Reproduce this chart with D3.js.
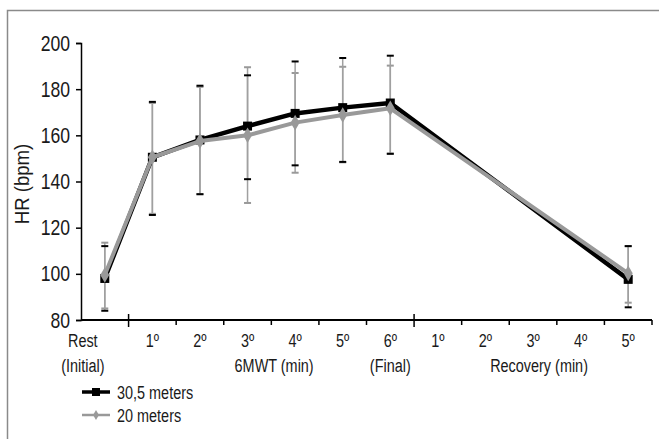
<!DOCTYPE html>
<html>
<head>
<meta charset="utf-8">
<script src="https://cdn.jsdelivr.net/npm/d3@7"></script>
<style>
  body { margin: 0; background: #fff; }
  svg { display: block; font-family: "Liberation Sans", Arial, sans-serif; }
</style>
</head>
<body>
<div id="chart"></div>
<script>
// tick labels along the x axis (12 slots)
var xLabels = ["Rest", "1º", "2º", "3º", "4º", "5º", "6º", "1º", "2º", "3º", "4º", "5º"];
var groupLabels = [
  {text: "(Initial)", at: 0, shift: -22},
  {text: "6MWT (min)", at: 4, shift: -21},
  {text: "(Final)", at: 6, shift: 0},
  {text: "Recovery (min)", at: 9, shift: 6}
];
var yTicks = [80, 100, 120, 140, 160, 180, 200];

// 30,5 meters
var mean30 = [98, 150.5, 158, 164, 169.5, 172, 174, null, null, null, null, 97.6];
var hi30   = [112, 174.5, 181.5, 186, 192, 193.5, 194.5, null, null, null, null, 112];
var lo30   = [84, 125.5, 134.5, 141, 147, 148.5, 152, null, null, null, null, 85.5];
// 20 meters
var mean20 = [99.5, 150.5, 157.5, 160, 165.5, 168.8, 171.7, null, null, null, null, 100.2];
var hi20   = [113.5, 174, 181, 189.5, 187, 189.7, 190.2, null, null, null, null, 112];
var lo20   = [85, 126, 134.5, 130.7, 143.8, 148.3, 152.1, null, null, null, null, 87.5];

var w = 659, h = 439;
var margin = {left: 81, right: 7, top: 43, bottom: 119};

var svg = d3.select("#chart").append("svg")
    .attr("width", w)
    .attr("height", h);

// outer frame (only top/left visible)
svg.append("rect")
    .attr("x", 7.5).attr("y", 10.5)
    .attr("width", 700).attr("height", 500)
    .attr("fill", "none")
    .attr("stroke", "#8a8a8a")
    .attr("stroke-width", 1.5);

var x = d3.scaleBand()
    .domain(d3.range(xLabels.length))
    .range([margin.left, w - margin.right])
    .paddingInner(0).paddingOuter(0);

var y = d3.scaleLinear()
    .domain([80, 200])
    .range([h - margin.bottom, margin.top]);

var cx = function(i) { return x(i) + x.bandwidth() / 2; };

// narrow type: squeeze text horizontally
function label(tx, ty, str, size, squeeze, anchor) {
  return svg.append("text")
      .attr("transform", "translate(" + tx + "," + ty + ") scale(" + squeeze + ",1)")
      .attr("text-anchor", anchor || "middle")
      .attr("font-size", size)
      .attr("fill", "#1a1a1a")
      .text(str);
}

// y axis
var yAxis = svg.append("g")
    .attr("transform", "translate(" + margin.left + ",0)")
    .call(d3.axisLeft(y).tickValues(yTicks).tickSize(5).tickPadding(6));
yAxis.select(".domain").attr("stroke", "#000").attr("stroke-width", 1.5);
yAxis.selectAll(".tick line").attr("stroke", "#000").attr("stroke-width", 1.5);
yAxis.selectAll(".tick text").remove();
yTicks.forEach(function(v) {
  label(margin.left - 11, y(v) + 7.5, v, 22, 0.8, "end");
});

svg.append("text")
    .attr("transform", "translate(29,184) rotate(-90) scale(0.93,1)")
    .attr("text-anchor", "middle")
    .attr("font-size", 20)
    .attr("fill", "#1a1a1a")
    .text("HR (bpm)");

// x axis
var baseY = y(80);
svg.append("line")
    .attr("x1", margin.left).attr("x2", w - margin.right)
    .attr("y1", baseY).attr("y2", baseY)
    .attr("stroke", "#000").attr("stroke-width", 2);

var bounds = d3.range(1, xLabels.length + 1);
svg.selectAll(".xtick")
    .data(bounds)
    .enter().append("line")
    .attr("class", "xtick")
    .attr("x1", function(d) { return margin.left + d * x.bandwidth(); })
    .attr("x2", function(d) { return margin.left + d * x.bandwidth(); })
    .attr("y1", function(d) { return (d == 1 || d == 7) ? baseY - 6 : baseY; })
    .attr("y2", function(d) { return (d == 1 || d == 7) ? baseY + 7 : baseY + 5; })
    .attr("stroke", "#000")
    .attr("stroke-width", 1.5);

xLabels.forEach(function(d, i) {
  label(i == 0 ? cx(i) - 22 : cx(i), baseY + 27, d, 19, 0.76);
});
groupLabels.forEach(function(d) {
  label(cx(d.at) + d.shift, baseY + 52, d.text, 19, 0.76);
});

// error bars
function errorBars(hi, lo, capColor, cls) {
  var idx = d3.range(hi.length).filter(function(i) { return hi[i] != null; });
  svg.selectAll(".stem" + cls).data(idx).enter().append("line")
      .attr("x1", cx).attr("x2", cx)
      .attr("y1", function(i) { return y(hi[i]); })
      .attr("y2", function(i) { return y(lo[i]); })
      .attr("stroke", "#a0a0a0").attr("stroke-width", 1.5);
  [hi, lo].forEach(function(arr, k) {
    svg.selectAll(".cap" + cls + k).data(idx).enter().append("line")
        .attr("x1", function(i) { return cx(i) - 3.5; })
        .attr("x2", function(i) { return cx(i) + 3.5; })
        .attr("y1", function(i) { return y(arr[i]); })
        .attr("y2", function(i) { return y(arr[i]); })
        .attr("stroke", capColor).attr("stroke-width", 2);
  });
}
errorBars(hi20, lo20, "#999", "g");
errorBars(hi30, lo30, "#000", "b");

var line = d3.line()
    .x(function(d) { return cx(d.i); })
    .y(function(d) { return y(d.v); });

function pts(arr) {
  return arr.map(function(v, i) { return {i: i, v: v}; }).filter(function(d) { return d.v != null; });
}

// 30,5 meters line + squares
svg.append("path")
    .attr("d", line(pts(mean30)))
    .attr("fill", "none").attr("stroke", "#000").attr("stroke-width", 4.5)
    .attr("stroke-linejoin", "round");
svg.selectAll(".sq").data(pts(mean30)).enter().append("rect")
    .attr("x", function(d) { return cx(d.i) - 4.5; })
    .attr("y", function(d) { return y(d.v) - 4.5; })
    .attr("width", 9).attr("height", 9)
    .attr("fill", "#000");

// 20 meters line + diamonds
svg.append("path")
    .attr("d", line(pts(mean20)))
    .attr("fill", "none").attr("stroke", "#999").attr("stroke-width", 4)
    .attr("stroke-linejoin", "round");
svg.selectAll(".dm").data(pts(mean20)).enter().append("path")
    .attr("d", d3.symbol().type(d3.symbolDiamond).size(70))
    .attr("transform", function(d) { return "translate(" + cx(d.i) + "," + y(d.v) + ")"; })
    .attr("fill", "#999");

// legend
var legend = [
  {name: "30,5 meters", color: "#000", shape: "square"},
  {name: "20 meters", color: "#999", shape: "diamond"}
];
var lg = svg.selectAll(".lg").data(legend).enter().append("g")
    .attr("transform", function(d, i) { return "translate(82," + (392 + i * 23) + ")"; });
lg.append("line")
    .attr("x1", 0).attr("x2", 28)
    .attr("stroke", function(d) { return d.color; })
    .attr("stroke-width", function(d, i) { return i == 0 ? 3.5 : 2.5; });
lg.append("path")
    .attr("d", function(d) {
      return d.shape == "square"
        ? d3.symbol().type(d3.symbolSquare).size(64)()
        : d3.symbol().type(d3.symbolDiamond).size(30)();
    })
    .attr("transform", "translate(14,0)")
    .attr("fill", function(d) { return d.color; });
lg.append("text")
    .attr("transform", "translate(35,6.5) scale(0.76,1)")
    .attr("font-size", 19)
    .attr("fill", "#1a1a1a")
    .text(function(d) { return d.name; });
</script>
</body>
</html>
